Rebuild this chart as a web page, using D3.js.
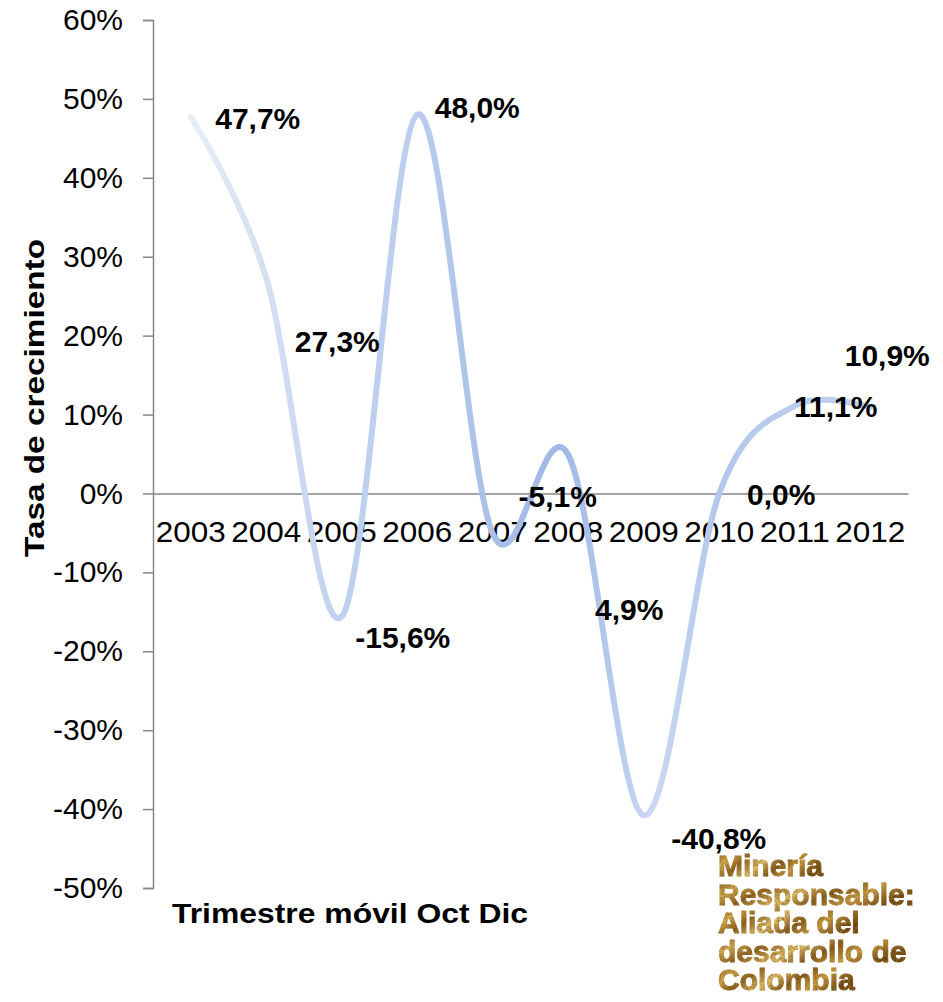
<!DOCTYPE html>
<html>
<head>
<meta charset="utf-8">
<script src="https://cdn.jsdelivr.net/npm/d3@7"></script>
<style>
  html, body { margin: 0; padding: 0; background: #ffffff; }
  svg { display: block; }
  text { font-family: "Liberation Sans", Arial, sans-serif; }
</style>
</head>
<body>
<svg id="chart" width="943" height="1002"></svg>
<script>
// ---- data ----
const years = ["2003","2004","2005","2006","2007","2008","2009","2010","2011","2012"];
const growth = [0.477, 0.273, -0.156, 0.480, -0.051, 0.049, -0.408, 0.000, 0.111, 0.109];
const labels = ["47,7%","27,3%","-15,6%","48,0%","-5,1%","4,9%","-40,8%","0,0%","11,1%","10,9%"];
const yTicks = [-0.5,-0.4,-0.3,-0.2,-0.1,0,0.1,0.2,0.3,0.4,0.5,0.6];
const yTitle = "Tasa de crecimiento";
const xTitle = "Trimestre móvil Oct Dic";
const logoLines = ["Minería","Responsable:","Aliada del","desarrollo de","Colombia"];

// label placement offsets (dx, dy from point) – layout only
const labelOffsets = [[67,12],[71,74],[61,31],[60,3],[65,-27],[61,165],[75,34],[62,12],[41,11],[17,-41]];

const svg = d3.select("#chart");
const defs = svg.append("defs");

const x = d3.scaleBand().domain(years).range([153, 908]);
const y = d3.scaleLinear().domain([-0.5, 0.6]).range([888, 20]);

// line gradient
const grad = defs.append("linearGradient").attr("id","lineGrad")
  .attr("gradientUnits","userSpaceOnUse")
  .attr("x1",188).attr("y1",0).attr("x2",870).attr("y2",0);
[[0,"#e8eef8"],[0.12,"#d4dff2"],[0.23,"#bfd0ef"],[0.33,"#bccdee"],[0.45,"#a8bfe8"],[0.55,"#9fb8e5"],[0.62,"#b6c9ec"],[0.68,"#cad8f2"],[0.78,"#b3c7eb"],[1,"#c3d3ef"]]
  .forEach(s => grad.append("stop").attr("offset",s[0]).attr("stop-color",s[1]));

// gold texture for logo
const goldGrad = defs.append("linearGradient").attr("id","goldGrad")
  .attr("x1",0).attr("y1",0).attr("x2",1).attr("y2",0.35);
[[0,"#7a4c14"],[0.18,"#d4aa50"],[0.32,"#8a5a1c"],[0.5,"#e0bd68"],[0.66,"#7d5018"],[0.82,"#c99d42"],[1,"#6e4410"]]
  .forEach(s => goldGrad.append("stop").attr("offset",s[0]).attr("stop-color",s[1]));

const tex = defs.append("filter").attr("id","grain").attr("x",0).attr("y",0).attr("width",1).attr("height",1);
tex.append("feTurbulence").attr("type","fractalNoise").attr("baseFrequency",0.45).attr("numOctaves",2).attr("seed",3).attr("result","noise");
tex.append("feColorMatrix").attr("in","noise").attr("type","matrix")
  .attr("values","0 0 0 0 0.30  0 0 0 0 0.17  0 0 0 0 0.03  0 0 0 2.2 -0.9").attr("result","dark");
tex.append("feComposite").attr("in","dark").attr("in2","SourceGraphic").attr("operator","in").attr("result","darkIn");
tex.append("feMerge").selectAll("feMergeNode").data(["SourceGraphic","darkIn"]).enter()
  .append("feMergeNode").attr("in", d => d);

// y axis
const yAxis = d3.axisLeft(y).tickValues(yTicks).tickSize(10).tickPadding(20)
  .tickFormat(d => Math.round(d*100) + "%");
const gy = svg.append("g").attr("transform","translate(153,0)").call(yAxis);
gy.select(".domain").attr("stroke","#868686").attr("stroke-width",1.5);
gy.selectAll(".tick line").attr("stroke","#868686").attr("stroke-width",1.5);
gy.selectAll(".tick text").attr("font-size",30).attr("fill","#000")
  .attr("font-family","'Liberation Sans', Arial, sans-serif");

// x axis at zero
const xAxis = d3.axisBottom(x).tickSize(0).tickPadding(27);
const gx = svg.append("g").attr("transform",`translate(0,${y(0)})`).call(xAxis);
gx.select(".domain").attr("stroke","#868686").attr("stroke-width",1.5);
gx.selectAll(".tick text").attr("font-size",30).attr("fill","#000")
  .attr("font-family","'Liberation Sans', Arial, sans-serif")
  .attr("textLength",70).attr("lengthAdjust","spacingAndGlyphs");

// line
const pts = years.map((yr,i) => [x(yr)+x.bandwidth()/2, y(growth[i])]);
const line = d3.line().curve(d3.curveCardinal.tension(0));
svg.append("path").attr("d", line(pts))
  .attr("fill","none").attr("stroke","url(#lineGrad)")
  .attr("stroke-width",6).attr("stroke-linecap","round");

// data labels
svg.append("g").selectAll("text").data(labels).enter().append("text")
  .attr("x",(d,i) => pts[i][0] + labelOffsets[i][0])
  .attr("y",(d,i) => pts[i][1] + labelOffsets[i][1])
  .attr("text-anchor","middle")
  .attr("font-size",30).attr("font-weight","bold").attr("fill","#000")
  .text(d => d);

// axis titles
svg.append("text")
  .attr("transform","translate(44,398) rotate(-90)")
  .attr("text-anchor","middle").attr("font-size",28).attr("font-weight","bold")
  .attr("textLength",318).attr("lengthAdjust","spacingAndGlyphs")
  .text(yTitle);
svg.append("text")
  .attr("x",172).attr("y",923)
  .attr("font-size",28).attr("font-weight","bold")
  .attr("textLength",356).attr("lengthAdjust","spacingAndGlyphs")
  .text(xTitle);

// logo
const logo = svg.append("g").attr("filter","url(#grain)");
logo.selectAll("text").data(logoLines).enter().append("text")
  .attr("x",718).attr("y",(d,i) => 876 + i*28.6)
  .attr("font-size",30).attr("font-weight",800)
  .attr("font-family","'Open Sans', 'Noto Sans', sans-serif")
  .attr("letter-spacing",0)
  .attr("stroke","url(#goldGrad)").attr("stroke-width",0.9)
  .attr("fill","url(#goldGrad)")
  .text(d => d);
</script>
</body>
</html>
